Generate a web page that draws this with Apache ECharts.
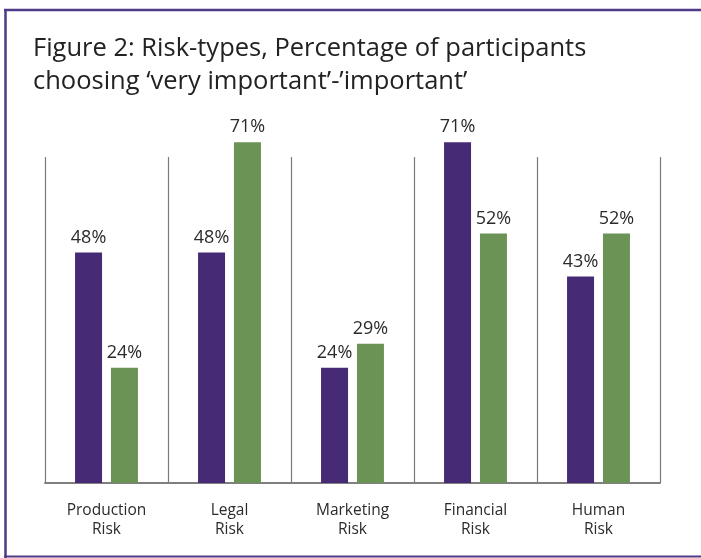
<!DOCTYPE html>
<html>
<head>
<meta charset="utf-8">
<script src="https://cdn.jsdelivr.net/npm/echarts@6/dist/echarts.min.js"></script>
<style>
html,body{margin:0;padding:0;background:#fff;}
#chart{width:701px;height:558px;}
</style>
</head>
<body>
<div id="chart"></div>
<script>
const titleLines = ["Figure 2: Risk-types, Percentage of participants", "choosing \u2018very important\u2019-\u2019important\u2019"];
const categories = ["Production Risk", "Legal Risk", "Marketing Risk", "Financial Risk", "Human Risk"];
const seriesA = [48, 48, 24, 71, 43];
const seriesB = [24, 71, 29, 52, 52];

const FONT = "Open Sans";
const chart = echarts.init(document.getElementById('chart'), null, {renderer: 'canvas'});
const gridPos = {left: 45, right: 41, bottom: 75};
const labelStyle = {show: true, position: 'top', distance: 6, formatter: '{c}%', color: '#2b2b2b', fontSize: 18, fontFamily: FONT};

chart.setOption({
  backgroundColor: '#fff',
  animation: false,
  title: {
    text: titleLines.join('\n'),
    left: 28, top: 27,
    textStyle: {fontFamily: FONT, fontSize: 25.5, fontWeight: 'normal', color: '#222', lineHeight: 33}
  },
  grid: [
    Object.assign({top: 99}, gridPos),
    Object.assign({top: 157}, gridPos)
  ],
  xAxis: [
    {
      type: 'category', data: categories, gridIndex: 0,
      axisLine: {show: true, lineStyle: {color: '#7f7f7f', width: 2}},
      axisTick: {show: false},
      splitLine: {show: false},
      axisLabel: {
        margin: 18, color: '#2b2b2b', fontSize: 15.5, fontFamily: FONT, lineHeight: 19,
        formatter: v => v.replace(' ', '\n')
      }
    },
    {
      type: 'category', data: categories, gridIndex: 1,
      axisLine: {show: false}, axisTick: {show: false}, axisLabel: {show: false},
      splitLine: {show: true, lineStyle: {color: '#7a7a7a', width: 1.2}}
    }
  ],
  yAxis: [
    {type: 'value', gridIndex: 0, min: 0, max: 80, show: false, splitLine: {show: false}},
    {type: 'value', gridIndex: 1, min: 0, max: 80, show: false, splitLine: {show: false}}
  ],
  series: [
    {type: 'bar', name: 'A', data: seriesA, xAxisIndex: 0, yAxisIndex: 0, barWidth: 27, barGap: '33%',
     itemStyle: {color: '#472a76'}, label: labelStyle, z: 3},
    {type: 'bar', name: 'B', data: seriesB, xAxisIndex: 0, yAxisIndex: 0, barWidth: 27, barGap: '33%',
     itemStyle: {color: '#6a9355'}, label: labelStyle, z: 3}
  ],
  graphic: [
    {type: 'line', shape: {x1: 4, y1: 10, x2: 701, y2: 10}, style: {stroke: '#4e3a86', lineWidth: 2.5}},
    {type: 'line', shape: {x1: 5.5, y1: 9, x2: 5.5, y2: 558}, style: {stroke: '#4e3a86', lineWidth: 2.5}},
    {type: 'line', shape: {x1: 4, y1: 556.5, x2: 701, y2: 556.5}, style: {stroke: '#4e3a86', lineWidth: 2}}
  ]
});
</script>
</body>
</html>
